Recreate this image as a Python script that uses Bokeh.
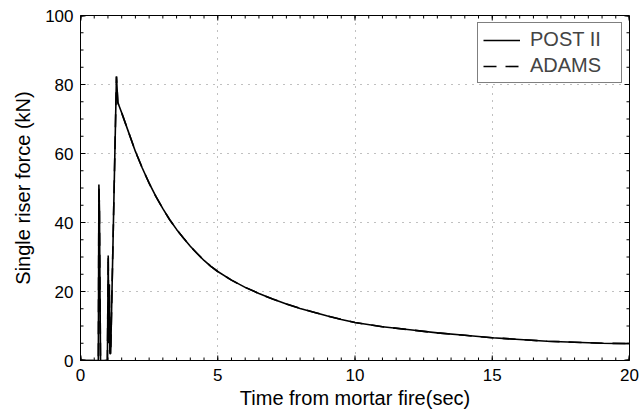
import numpy as np
from bokeh.plotting import figure
from bokeh.models import (SingleIntervalTicker, LinearAxis, Range1d, Legend, LegendItem, Grid)
from bokeh.embed import file_html
from bokeh.resources import INLINE

# Data (time in s, force in kN)
time_s = [0.0, 0.62, 0.65, 0.67, 0.69, 0.71, 0.73, 0.96, 0.98, 1.01, 1.03, 1.05, 1.07, 1.10,
          1.31, 1.36, 1.5, 1.75, 2.0, 2.25, 2.5, 2.75, 3.0, 3.25, 3.5, 3.75, 4.0, 4.25, 4.5, 4.75,
          5.0, 5.5, 6.0, 6.5, 7.0, 7.5, 8.0, 8.5, 9.0, 9.5, 10.0,
          11.0, 12.0, 13.0, 14.0, 15.0, 16.0, 17.0, 18.0, 19.0, 20.0]
post_ii = [0.0, 0.0, 0.0, 51.0, 44.0, 20.0, 0.0, 0.0, 0.0, 30.4, 5.0, 22.0, 2.0, 2.0,
           82.3, 74.8, 71.8, 66.2, 60.6, 55.8, 51.4, 47.5, 44.0, 40.8, 38.0, 35.5, 33.1, 31.0, 29.0, 27.3,
           25.8, 23.3, 21.2, 19.4, 17.8, 16.4, 15.1, 14.0, 12.9, 11.9, 11.0,
           9.8, 8.9, 8.0, 7.3, 6.6, 6.1, 5.6, 5.3, 5.0, 4.9]
adams = post_ii  # ADAMS trace coincides with POST II in the reference

x_label = "Time from mortar fire(sec)"
y_label = "Single riser force (kN)"
series_names = ["POST II", "ADAMS"]

X_MIN, X_MAX, X_STEP = 0, 20, 5
Y_MIN, Y_MAX, Y_STEP = 0, 100, 20

FONT = "Liberation Sans"
TICK_FS = "17px"
LABEL_FS = "20px"

W, H = 643, 414
B_L, B_R, B_T, B_B = 80, 14, 15, 54

p = figure(width=W, height=H, output_backend="svg", toolbar_location=None,
           x_range=Range1d(X_MIN, X_MAX), y_range=Range1d(Y_MIN, Y_MAX),
           min_border_left=B_L, min_border_right=B_R, min_border_top=B_T, min_border_bottom=B_B,
           x_axis_type=None, y_axis_type=None)
p.background_fill_color = "white"
p.border_fill_color = "white"
p.outline_line_color = "black"
p.outline_line_width = 1

xt = SingleIntervalTicker(interval=X_STEP, num_minor_ticks=10)
yt = SingleIntervalTicker(interval=Y_STEP, num_minor_ticks=4)

def style(ax):
    ax.axis_line_color = "black"
    ax.major_tick_in = 0
    ax.major_tick_out = 0
    ax.minor_tick_in = 0
    ax.minor_tick_out = 0
    ax.major_label_text_font = FONT
    ax.major_label_text_font_size = TICK_FS
    ax.major_label_text_color = "black"
    ax.axis_label_text_font = FONT
    ax.axis_label_text_font_size = LABEL_FS
    ax.axis_label_text_font_style = "normal"
    ax.axis_label_text_color = "black"

xb = LinearAxis(ticker=xt, axis_label=x_label)
style(xb)
xb.major_label_standoff = 8
xb.axis_label_standoff = 3
yl = LinearAxis(ticker=yt, axis_label=y_label)
style(yl)
yl.major_label_standoff = 7
yl.axis_label_standoff = 8
p.add_layout(xb, "below")
p.add_layout(yl, "left")

gx = Grid(dimension=0, ticker=xt)
gy = Grid(dimension=1, ticker=yt)
for g in (gx, gy):
    g.grid_line_color = "#808080"
    g.grid_line_dash = "1 6"
    g.grid_line_width = 1
    p.add_layout(g)

# inward tick marks on all four sides, drawn as one broken path (NaN separates ticks)
px_x = (X_MAX - X_MIN) / (W - B_L - B_R)   # data units per pixel, x
px_y = (Y_MAX - Y_MIN) / (H - B_T - B_B)   # data units per pixel, y
MAJ, MIN = 5, 3
x_major = np.arange(X_MIN, X_MAX + 1e-9, X_STEP)
x_minor = np.arange(X_MIN, X_MAX + 1e-9, X_STEP / 10)
y_major = np.arange(Y_MIN, Y_MAX + 1e-9, Y_STEP)
y_minor = np.arange(Y_MIN, Y_MAX + 1e-9, Y_STEP / 4)
tx, ty = [], []
for xs, L in ((x_minor, MIN), (x_major, MAJ)):
    for xv in xs:
        xv = min(max(xv, X_MIN + 0.5 * px_x), X_MAX - 0.5 * px_x)
        tx += [xv, xv, np.nan, xv, xv, np.nan]
        ty += [Y_MIN, Y_MIN + L * px_y, np.nan, Y_MAX, Y_MAX - L * px_y, np.nan]
for ys, L in ((y_minor, MIN), (y_major, MAJ)):
    for yv in ys:
        yv = min(max(yv, Y_MIN + 0.5 * px_y), Y_MAX - 0.5 * px_y)
        tx += [X_MIN, X_MIN + L * px_x, np.nan, X_MAX, X_MAX - L * px_x, np.nan]
        ty += [yv, yv, np.nan, yv, yv, np.nan]
p.line(tx, ty, line_color="black", line_width=1)

r1 = p.line(time_s, post_ii, line_color="black", line_width=1.6)
r2 = p.line(time_s, adams, line_color="black", line_width=1.6, line_dash="13 9")

leg = Legend(items=[LegendItem(label=series_names[0], renderers=[r1]),
                    LegendItem(label=series_names[1], renderers=[r2])],
             location="top_right")
leg.border_line_color = "black"
leg.border_line_width = 1
leg.background_fill_color = "white"
leg.background_fill_alpha = 1
leg.label_text_font = FONT
leg.label_text_font_size = LABEL_FS
leg.glyph_width = 37
leg.glyph_height = 20
leg.label_height = 20
leg.label_width = 86
leg.spacing = 3
leg.padding = 5
leg.margin = 7
leg.label_standoff = 10
p.add_layout(leg, "center")

open("out.html", "w").write(file_html(p, INLINE))
